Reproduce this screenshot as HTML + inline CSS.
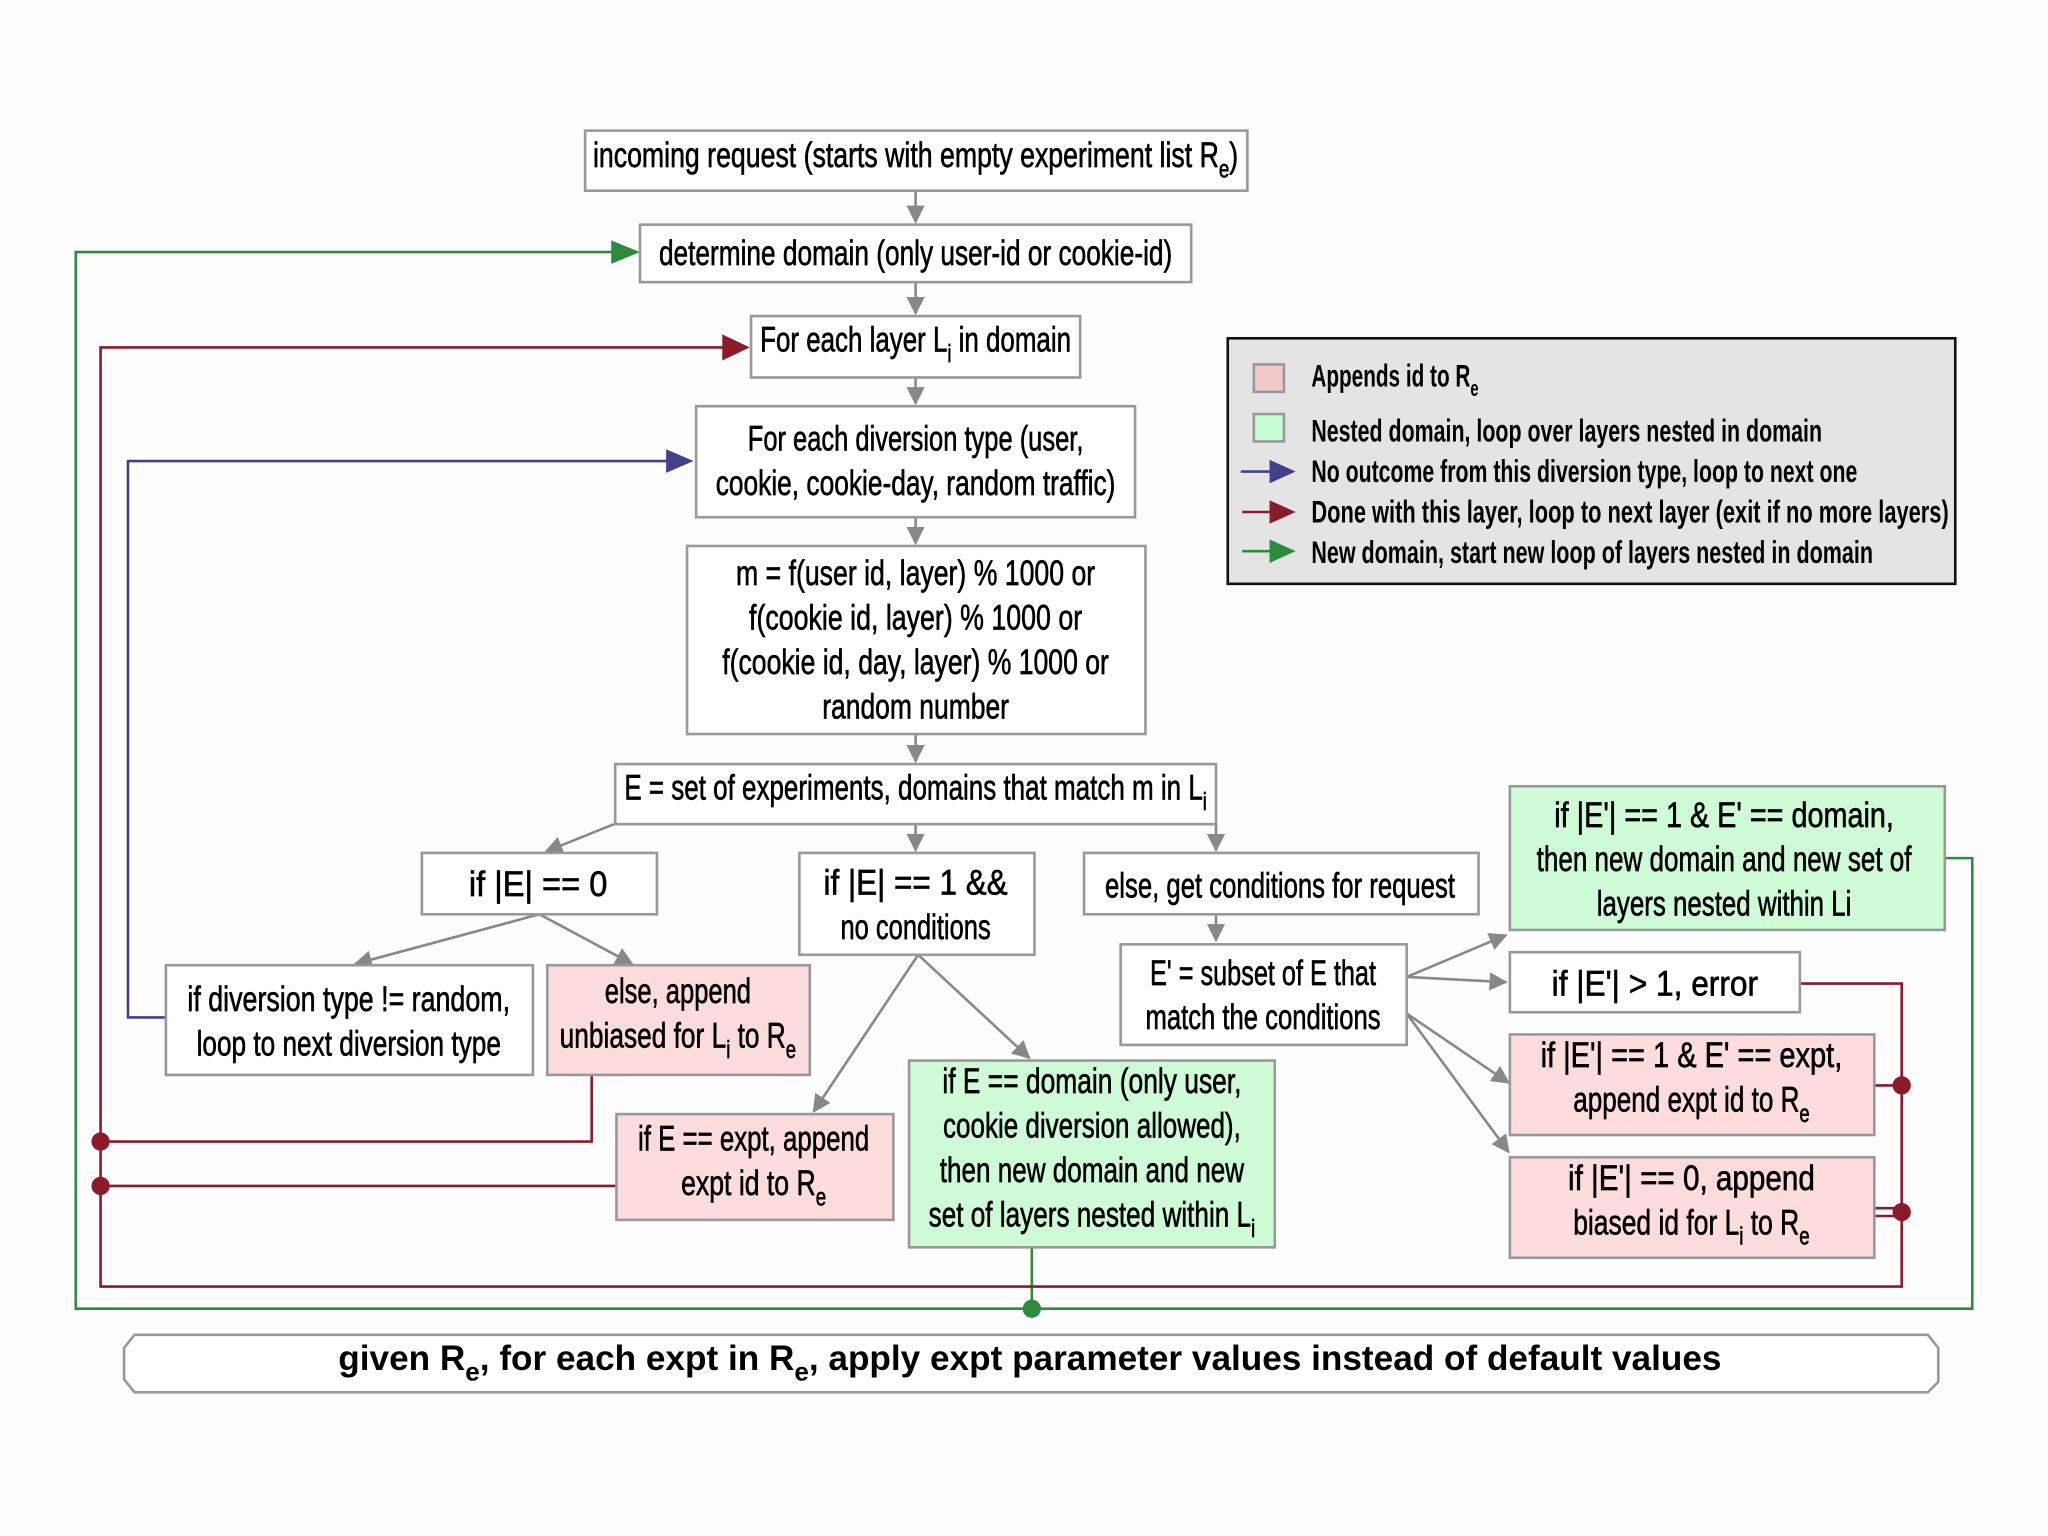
<!DOCTYPE html>
<html><head><meta charset="utf-8"><style>
html,body{margin:0;padding:0;background:#fff}
svg{display:block}
.c{font-family:"Liberation Sans Narrow","Liberation Sans",sans-serif;font-size:27px;fill:#000;text-anchor:middle;stroke:#000;stroke-width:0.5}
.l{font-family:"Liberation Sans Narrow","Liberation Sans",sans-serif;font-size:24px;fill:#000;font-weight:bold}
.g{font-family:"Liberation Sans","DejaVu Sans",sans-serif;font-size:27px;fill:#000;font-weight:bold}
.b{stroke:#999;stroke-width:2}
.a{stroke:#888;stroke-width:2;fill:none}
</style></head><body>
<svg width="2048" height="1536" viewBox="0 0 1568 1176" xmlns="http://www.w3.org/2000/svg">
<defs>
<marker id="ga" viewBox="0 0 10 10" refX="9" refY="5" markerWidth="7" markerHeight="7" orient="auto"><path d="M0,0L10,5L0,10z" fill="#888"/></marker>
</defs>
<rect width="1568" height="1176" fill="#fdfdfd"/>

<polyline points="790,955 790,1002" fill="none" stroke="#2e8b3e" stroke-width="2"/>
<polyline points="470,193 58,193 58,1002 1510,1002 1510,657 1489,657" fill="none" stroke="#2e8b3e" stroke-width="2"/>
<path d="M468,184L490,193L468,202z" fill="#2e8b3e"/>
<circle cx="790" cy="1002" r="7" fill="#2e8b3e"/>

<polyline points="555,266 77,266 77,985 1456,985 1456,753 1378,753" fill="none" stroke="#8b1a2a" stroke-width="2"/>
<path d="M553,256L574,266L553,276z" fill="#8b1a2a"/>
<polyline points="77,874 453,874 453,823" fill="none" stroke="#8b1a2a" stroke-width="2"/>
<line x1="77" y1="908" x2="472" y2="908" stroke="#8b1a2a" stroke-width="2"/>
<line x1="1435" y1="831" x2="1456" y2="831" stroke="#8b1a2a" stroke-width="2"/>
<line x1="1435" y1="925" x2="1456" y2="925" stroke="#8b1a2a" stroke-width="2"/>
<line x1="1435" y1="931" x2="1456" y2="931" stroke="#8b1a2a" stroke-width="2"/>
<circle cx="77" cy="874" r="7" fill="#8b1a2a"/>
<circle cx="77" cy="908" r="7" fill="#8b1a2a"/>
<circle cx="1456" cy="831" r="7" fill="#8b1a2a"/>
<circle cx="1456" cy="928" r="7" fill="#8b1a2a"/>

<polyline points="127,779 98,779 98,353 512,353" fill="none" stroke="#45408a" stroke-width="2"/>
<path d="M510,344L531,353L510,362z" fill="#45408a"/>

<g class="a" marker-end="url(#ga)">
<line x1="701" y1="146" x2="701" y2="170"/>
<line x1="701" y1="216" x2="701" y2="240"/>
<line x1="701" y1="289" x2="701" y2="309"/>
<line x1="701" y1="396" x2="701" y2="416"/>
<line x1="701" y1="562" x2="701" y2="583"/>
<line x1="470" y1="631" x2="418" y2="652"/>
<line x1="701" y1="631" x2="701" y2="651"/>
<line x1="931" y1="631" x2="931" y2="651"/>
<line x1="413" y1="700" x2="272" y2="738"/>
<line x1="413" y1="700" x2="484" y2="738"/>
<line x1="703" y1="731" x2="623" y2="851"/>
<line x1="703" y1="731" x2="788" y2="810"/>
<line x1="931" y1="700" x2="931" y2="720"/>
<line x1="1077" y1="748" x2="1153" y2="716"/>
<line x1="1077" y1="748" x2="1153" y2="752"/>
<line x1="1077" y1="776" x2="1155" y2="829"/>
<line x1="1077" y1="776" x2="1155" y2="882"/>
</g>

<g class="b">
<rect x="448" y="100" width="507" height="46" fill="#fff"/>
<rect x="490" y="172" width="422" height="44" fill="#fff"/>
<rect x="575" y="242" width="252" height="47" fill="#fff"/>
<rect x="533" y="311" width="336" height="85" fill="#fff"/>
<rect x="526" y="418" width="351" height="144" fill="#fff"/>
<rect x="471" y="585" width="460" height="46" fill="#fff"/>
<rect x="323" y="653" width="180" height="47" fill="#fff"/>
<rect x="612" y="653" width="180" height="78" fill="#fff"/>
<rect x="830" y="653" width="302" height="47" fill="#fff"/>
<rect x="127" y="739" width="281" height="84" fill="#fff"/>
<rect x="419" y="739" width="201" height="84" fill="#fcdcdc"/>
<rect x="858" y="723" width="219" height="77" fill="#fff"/>
<rect x="1156" y="602" width="333" height="110" fill="#cdfcd6"/>
<rect x="1156" y="729" width="222" height="46" fill="#fff"/>
<rect x="1156" y="792" width="279" height="77" fill="#fcdcdc"/>
<rect x="1156" y="886" width="279" height="77" fill="#fcdcdc"/>
<rect x="472" y="853" width="212" height="81" fill="#fcdcdc"/>
<rect x="696" y="812" width="280" height="143" fill="#cdfcd6"/>
<polygon points="103,1022 1476,1022 1484,1032 1484,1058 1476,1066 103,1066 95,1056 95,1032" fill="#fff"/>
</g>

<rect x="940" y="259" width="557" height="188" fill="#e4e4e4" stroke="#111" stroke-width="2"/>
<rect x="960" y="279" width="23" height="21" fill="#f2caca" stroke="#999" stroke-width="2"/>
<rect x="960" y="317" width="23" height="21" fill="#c8fcd2" stroke="#999" stroke-width="2"/>
<line x1="950" y1="361" x2="975" y2="361" stroke="#45408a" stroke-width="2"/><path d="M972,352L992,361L972,370z" fill="#45408a"/>
<line x1="951" y1="392" x2="975" y2="392" stroke="#8b1a2a" stroke-width="2"/><path d="M972,383L992,392L972,401z" fill="#8b1a2a"/>
<line x1="951" y1="422" x2="975" y2="422" stroke="#2e8b3e" stroke-width="2"/><path d="M972,413L992,422L972,431z" fill="#2e8b3e"/>
<text class="l" x="1004" y="296" textLength="128" lengthAdjust="spacingAndGlyphs">Appends id to R<tspan dy="7" font-size="17">e</tspan></text>
<text class="l" x="1004" y="338" textLength="391" lengthAdjust="spacingAndGlyphs">Nested domain, loop over layers nested in domain</text>
<text class="l" x="1004" y="369" textLength="418" lengthAdjust="spacingAndGlyphs">No outcome from this diversion type, loop to next one</text>
<text class="l" x="1004" y="400" textLength="488" lengthAdjust="spacingAndGlyphs">Done with this layer, loop to next layer (exit if no more layers)</text>
<text class="l" x="1004" y="431" textLength="430" lengthAdjust="spacingAndGlyphs">New domain, start new loop of layers nested in domain</text>

<text class="c" x="701" y="128" textLength="494" lengthAdjust="spacingAndGlyphs">incoming request (starts with  empty experiment list R<tspan dy="8" font-size="19">e</tspan><tspan dy="-8">)</tspan></text>
<text class="c" x="701" y="203" textLength="393" lengthAdjust="spacingAndGlyphs">determine domain (only user-id or cookie-id)</text>
<text class="c" x="701" y="269" textLength="238" lengthAdjust="spacingAndGlyphs">For each layer L<tspan dy="8" font-size="19">i</tspan><tspan dy="-8"> in domain</tspan></text>
<text class="c" x="701" y="345" textLength="257" lengthAdjust="spacingAndGlyphs">For each diversion type (user,</text>
<text class="c" x="701" y="379" textLength="306" lengthAdjust="spacingAndGlyphs">cookie, cookie-day, random traffic)</text>
<text class="c" x="701" y="448" textLength="275" lengthAdjust="spacingAndGlyphs">m = f(user id, layer) % 1000 or</text>
<text class="c" x="701" y="482" textLength="255" lengthAdjust="spacingAndGlyphs">f(cookie id, layer) % 1000 or</text>
<text class="c" x="701" y="516" textLength="296" lengthAdjust="spacingAndGlyphs">f(cookie id, day, layer) % 1000 or</text>
<text class="c" x="701" y="550" textLength="143" lengthAdjust="spacingAndGlyphs">random number</text>
<text class="c" x="701" y="612" textLength="446" lengthAdjust="spacingAndGlyphs">E = set of experiments, domains that match m in L<tspan dy="8" font-size="19">i</tspan></text>
<text class="c" x="412" y="686" textLength="106" lengthAdjust="spacingAndGlyphs">if |E| == 0</text>
<text class="c" x="701" y="685" textLength="141" lengthAdjust="spacingAndGlyphs">if |E| == 1 &amp;&amp;</text>
<text class="c" x="701" y="719" textLength="115" lengthAdjust="spacingAndGlyphs">no conditions</text>
<text class="c" x="980" y="687" textLength="268" lengthAdjust="spacingAndGlyphs">else, get conditions for request</text>
<text class="c" x="267" y="774" textLength="247" lengthAdjust="spacingAndGlyphs">if diversion type != random,</text>
<text class="c" x="267" y="808" textLength="233" lengthAdjust="spacingAndGlyphs">loop to next diversion type</text>
<text class="c" x="519" y="768" textLength="112" lengthAdjust="spacingAndGlyphs">else, append</text>
<text class="c" x="519" y="802" textLength="181" lengthAdjust="spacingAndGlyphs">unbiased for L<tspan dy="8" font-size="19">i</tspan><tspan dy="-8"> to R</tspan><tspan dy="8" font-size="19">e</tspan></text>
<text class="c" x="967" y="754" textLength="173" lengthAdjust="spacingAndGlyphs">E' = subset of E that</text>
<text class="c" x="967" y="788" textLength="180" lengthAdjust="spacingAndGlyphs">match the conditions</text>
<text class="c" x="577" y="881" textLength="177" lengthAdjust="spacingAndGlyphs">if E == expt, append</text>
<text class="c" x="577" y="915" textLength="111" lengthAdjust="spacingAndGlyphs">expt id to R<tspan dy="8" font-size="19">e</tspan></text>
<text class="c" x="836" y="837" textLength="229" lengthAdjust="spacingAndGlyphs">if E == domain (only user,</text>
<text class="c" x="836" y="871" textLength="228" lengthAdjust="spacingAndGlyphs">cookie diversion allowed),</text>
<text class="c" x="836" y="905" textLength="233" lengthAdjust="spacingAndGlyphs">then new domain and new</text>
<text class="c" x="836" y="939" textLength="250" lengthAdjust="spacingAndGlyphs">set of layers nested within L<tspan dy="8" font-size="19">i</tspan></text>
<text class="c" x="1320" y="633" textLength="260" lengthAdjust="spacingAndGlyphs">if |E'| == 1 &amp; E' == domain,</text>
<text class="c" x="1320" y="667" textLength="287" lengthAdjust="spacingAndGlyphs">then new domain and new set of</text>
<text class="c" x="1320" y="701" textLength="195" lengthAdjust="spacingAndGlyphs">layers nested within Li</text>
<text class="c" x="1267" y="762" textLength="158" lengthAdjust="spacingAndGlyphs">if |E'| &gt; 1, error</text>
<text class="c" x="1295" y="817" textLength="231" lengthAdjust="spacingAndGlyphs">if |E'| == 1 &amp; E' == expt,</text>
<text class="c" x="1295" y="851" textLength="181" lengthAdjust="spacingAndGlyphs">append expt id to R<tspan dy="8" font-size="19">e</tspan></text>
<text class="c" x="1295" y="911" textLength="189" lengthAdjust="spacingAndGlyphs">if |E'| == 0, append</text>
<text class="c" x="1295" y="945" textLength="181" lengthAdjust="spacingAndGlyphs">biased id for L<tspan dy="8" font-size="19">i</tspan><tspan dy="-8"> to R</tspan><tspan dy="8" font-size="19">e</tspan></text>
<text class="g" x="259" y="1049" textLength="1059" lengthAdjust="spacingAndGlyphs">given R<tspan dy="8" font-size="20">e</tspan><tspan dy="-8">, for each expt in R</tspan><tspan dy="8" font-size="20">e</tspan><tspan dy="-8">, apply expt parameter values instead of default values</tspan></text>
</svg>
</body></html>
